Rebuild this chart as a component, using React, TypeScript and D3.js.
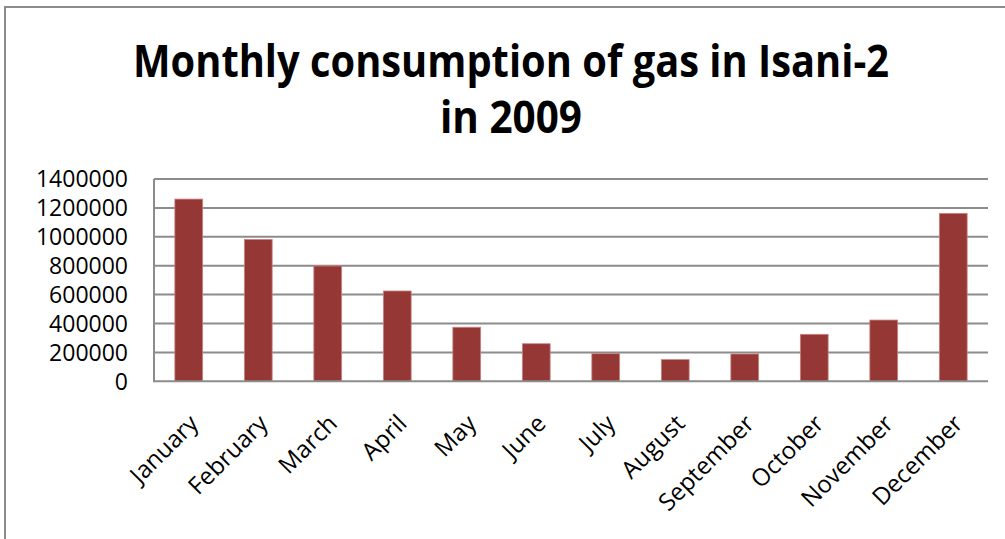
import React from "react";
import * as d3 from "d3";

const months = ["January","February","March","April","May","June","July","August","September","October","November","December"];
const consumption = [1261000, 982000, 798000, 625000, 374000, 260000, 191000, 150000, 189000, 325000, 424000, 1162000];
const yTicks = [0, 200000, 400000, 600000, 800000, 1000000, 1200000, 1400000];
const titleLines = ["Monthly consumption of gas in Isani-2", "in 2009"];

export default function App() {
  const W = 1005, H = 539;
  const left = 154, right = 988, top = 179, bottom = 381.3;
  const x = d3.scaleBand<string>().domain(months).range([left, right]).paddingInner(0.6).paddingOuter(0.3);
  const y = d3.scaleLinear().domain([0, 1400000]).range([bottom, top]);
  const font = "'Open Sans', sans-serif";
  return (
    <svg width={W} height={H} style={{ position: "absolute", left: 0, top: 0, background: "#fff" }}>
      <rect x={5} y={7} width={1100} height={700} fill="#fff" stroke="#8c8c8c" strokeWidth={2} />
      <text x={511} y={77} textAnchor="middle" fontFamily={font} fontWeight={700} fontSize={45} textLength={756} lengthAdjust="spacingAndGlyphs" fill="#000">{titleLines[0]}</text>
      <text x={511} y={133} textAnchor="middle" fontFamily={font} fontWeight={700} fontSize={45} textLength={142} lengthAdjust="spacingAndGlyphs" fill="#000">{titleLines[1]}</text>
      {yTicks.map((t) => (
        <g key={t}>
          {t > 0 && <line x1={left} x2={right} y1={y(t)} y2={y(t)} stroke="#8c8c8c" strokeWidth={2} />}
          <text x={128} y={y(t)} dy="0.36em" textAnchor="end" fontFamily={font} fontSize={23} fill="#000">{t}</text>
        </g>
      ))}
      {months.map((m, i) => (
        <rect key={m} x={x(m)} y={y(consumption[i])} width={x.bandwidth()} height={bottom - y(consumption[i])} fill="#953735" stroke="#c9827f" strokeWidth={0.8} />
      ))}
      <line x1={left} x2={left} y1={top} y2={bottom} stroke="#8c8c8c" strokeWidth={2} />
      <line x1={left - 1} x2={right} y1={bottom} y2={bottom} stroke="#8c8c8c" strokeWidth={2} />
      {months.map((m) => {
        const cx = (x(m) as number) + x.bandwidth() / 2 + 11;
        const cy = 425;
        return (
          <text key={m} x={cx} y={cy} transform={`rotate(-45 ${cx} ${cy})`} textAnchor="end" fontFamily={font} fontSize={24} fill="#000">{m}</text>
        );
      })}
    </svg>
  );
}
